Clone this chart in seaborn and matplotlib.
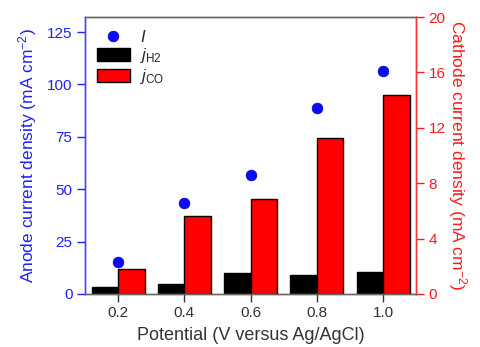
import matplotlib
matplotlib.use("Agg")
import matplotlib.pyplot as plt
import seaborn as sns
import pandas as pd
from matplotlib.lines import Line2D
from matplotlib.patches import Patch

# ---- data ----
potentials = ["0.2", "0.4", "0.6", "0.8", "1.0"]
anode_I = [15.1, 43.6, 56.8, 88.9, 106.4]          # mA cm-2 (left axis)
j_H2 = [0.5, 0.72, 1.52, 1.40, 1.57]              # mA cm-2 (right axis)
j_CO = [1.81, 5.62, 6.87, 11.26, 14.37]           # mA cm-2 (right axis)
series_names = ["H2", "CO"]
left_ticks = [0, 25, 50, 75, 100, 125]
right_ticks = [0, 4, 8, 12, 16, 20]

sns.set_style("ticks")
plt.rcParams["font.family"] = ["Liberation Sans", "DejaVu Sans"]
plt.rcParams["mathtext.fontset"] = "custom"
plt.rcParams["mathtext.rm"] = "Liberation Sans"
plt.rcParams["mathtext.it"] = "Liberation Sans:italic"

BLUE = "#1f1fff"
RED = "#ff1a1a"
GRAY = "#333333"

bars = pd.DataFrame({
    "Potential": potentials * 2,
    "series": [series_names[0]] * 5 + [series_names[1]] * 5,
    "value": j_H2 + j_CO,
})
pts = pd.DataFrame({"Potential": potentials, "I": anode_I})

fig = plt.figure(figsize=(4.8, 3.47), dpi=100)
ax = fig.add_axes([0.177, 0.153, 0.690, 0.798])
ax2 = ax.twinx()

sns.barplot(data=bars, x="Potential", y="value", hue="series", order=potentials,
            hue_order=series_names, palette={"H2": "black", "CO": "#ff0000"},
            saturation=1, width=0.8, edgecolor="black", linewidth=1.0, ax=ax2,
            legend=False)
sns.stripplot(data=pts, x="Potential", y="I", order=potentials, jitter=False,
              color="#0a0aff", size=7.8, edgecolor="#0000aa", linewidth=0.4,
              ax=ax, zorder=5)

ax.set_zorder(ax2.get_zorder() + 1)
ax.patch.set_visible(False)

ax.set_xlim(-0.5, 4.5)
ax.set_ylim(0, 132.2)
ax2.set_ylim(0, 20)
ax.set_yticks(left_ticks)
ax2.set_yticks(right_ticks)

ax.set_xlabel("Potential (V versus Ag/AgCl)", fontsize=13, color=GRAY, labelpad=5)
ax.set_ylabel("Anode current density (mA cm$^{-2}$)", fontsize=12.5, color=BLUE, labelpad=6)
ax2.set_ylabel("Cathode current density (mA cm$^{-2}$)", fontsize=12.5, color=RED,
               rotation=270, labelpad=17)
ax2.set_xlabel("")

ax.tick_params(axis="y", colors=BLUE, labelsize=11, length=5.5, width=1)
ax.tick_params(axis="x", colors=GRAY, labelsize=11, length=5.5, width=1)
ax2.tick_params(axis="y", colors=RED, labelsize=11, length=5.5, width=1)

for a in (ax, ax2):
    a.spines["left"].set_color("#4444ff")
    a.spines["right"].set_color("#ff3333")
    a.spines["top"].set_color("#666666")
    a.spines["bottom"].set_color("#666666")
    for s in a.spines.values():
        s.set_linewidth(1.0)
    a.spines["top"].set_visible(True)
    a.spines["right"].set_visible(True)

handles = [
    Line2D([], [], marker="o", linestyle="none", color="#0a0aff", markersize=7.8,
           markeredgecolor="#0000aa", markeredgewidth=0.4),
    Patch(facecolor="black", edgecolor="black"),
    Patch(facecolor="#ff0000", edgecolor="black"),
]
labels = ["$I$", "$j_{\\mathrm{H2}}$", "$j_{\\mathrm{CO}}$"]
ax.legend(handles, labels, loc="upper left", frameon=False, fontsize=12,
          handlelength=2.0, handleheight=0.8, labelspacing=0.1,
          borderaxespad=0.3, handletextpad=0.6, bbox_to_anchor=(0.0, 1.0))

fig.savefig("out.png", dpi=100)
